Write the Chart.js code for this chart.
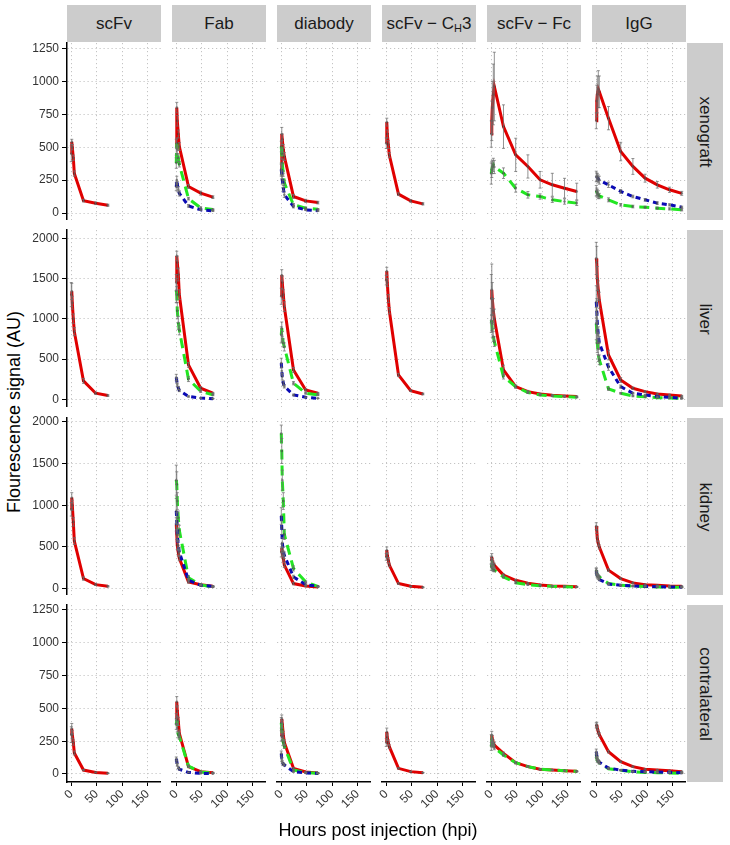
<!DOCTYPE html>
<html>
<head>
<meta charset="utf-8">
<script src="https://cdn.jsdelivr.net/npm/chart.js@4.4.0/dist/chart.umd.min.js"></script>
<style>
  body { margin: 0; background: #fff; font-family: "Liberation Sans", Arial, sans-serif; }
  #fig { position: relative; width: 730px; height: 845px; overflow: hidden; }
  canvas { position: absolute; }
  .strip { position: absolute; background: #cccccc; color: #1a1a1a; font-size: 17px;
           display: flex; align-items: center; justify-content: center; white-space: nowrap; }
  .strip sub { font-size: 11px; position: relative; top: 4px; vertical-align: baseline; }
  .rstrip span { transform: rotate(90deg); display: inline-block; }
  .title { position: absolute; font-size: 18px; color: #000; white-space: nowrap; }
</style>
</head>
<body>
<div id="fig"></div>
<script>
// facets
const formats = ['scFv', 'Fab', 'diabody', 'scFv − C<sub>H</sub>3', 'scFv − Fc', 'IgG'];
const tissues = ['xenograft', 'liver', 'kidney', 'contralateral'];

// sampling times (h)
const timesShort = [0, 1, 2, 4, 6, 24, 48, 72];
const timesLong = [0, 1, 2, 4, 6, 24, 48, 72, 96, 120, 144, 168];

// tick labels
const xTicks = [0, 50, 100, 150];
const yTicksSmall = [0, 250, 500, 750, 1000, 1250];
const yTicksLarge = [0, 500, 1000, 1500, 2000];

// order of each row's columns: scFv, Fab, diabody, scFv-CH3, scFv-Fc, IgG
const xenograftRed = [
  [450, 540, 500, 420, 300, 95, 75, 60],
  [500, 800, 700, 600, 505, 202, 152, 121],
  [330, 600, 560, 480, 430, 126, 93, 80],
  [530, 690, 600, 520, 440, 144, 93, 70],
  [600, 700, 800, 900, 960, 656, 442, 354, 253, 215, 189, 164],
  [700, 850, 900, 940, 920, 720, 467, 354, 265, 215, 177, 150]
];
const xenograftGreen = [
  null,
  [380, 530, 480, 420, 370, 110, 40, 28],
  [505, 450, 380, 300, 230, 63, 38, 30],
  null,
  [300, 330, 350, 366, 350, 303, 189, 139, 126, 101, 88, 76],
  [170, 160, 150, 140, 130, 101, 63, 50, 45, 38, 32, 25]
];
const xenograftBlue = [
  null,
  [200, 250, 220, 180, 150, 55, 25, 18],
  [330, 290, 250, 190, 140, 50, 25, 18],
  null,
  null,
  [278, 275, 270, 260, 250, 215, 164, 126, 101, 76, 63, 45]
];
const xenograftRedErr = [
  [60, 20, 20, 20, 20, 10, 10, 8],
  [60, 40, 40, 30, 30, 15, 15, 10],
  [50, 50, 40, 40, 30, 15, 12, 10],
  [40, 30, 30, 30, 20, 10, 10, 8],
  [100, 150, 200, 230, 260, 165, 126, 88, 63, 87, 75, 63],
  [60, 120, 140, 140, 120, 88, 70, 60, 30, 25, 20, 15]
];
const xenograftGreenErr = [
  null,
  [40, 40, 30, 30, 20, 10, 8, 5],
  [40, 40, 30, 20, 20, 10, 8, 5],
  null,
  [80, 60, 50, 50, 50, 40, 30, 25, 20, 20, 20, 18],
  [40, 30, 30, 30, 20, 15, 10, 10, 8, 8, 8, 8]
];
const xenograftBlueErr = [
  null,
  [30, 30, 20, 20, 20, 10, 5, 5],
  [40, 30, 30, 20, 20, 10, 5, 5],
  null,
  null,
  [40, 30, 30, 30, 30, 20, 15, 10, 10, 10, 8, 8]
];

const liverRed = [
  [1300, 1340, 1200, 1000, 840, 228, 75, 46],
  [1450, 1780, 1700, 1550, 1300, 427, 137, 75],
  [1280, 1540, 1450, 1300, 1150, 364, 116, 75],
  [1480, 1590, 1450, 1250, 1100, 302, 108, 66],
  [1250, 1360, 1250, 1100, 1000, 364, 157, 95, 66, 50, 41, 33],
  [1750, 1700, 1500, 1350, 1230, 550, 240, 137, 95, 66, 54, 41]
];
const liverGreen = [
  null,
  [1350, 1300, 1100, 950, 860, 250, 100, 55],
  [800, 880, 780, 700, 650, 200, 75, 54],
  null,
  [980, 950, 850, 780, 716, 282, 157, 83, 54, 41, 33, 25],
  [940, 850, 700, 550, 490, 130, 75, 40, 30, 20, 15, 12]
];
const liverBlue = [
  null,
  [270, 230, 180, 140, 110, 35, 15, 8],
  [450, 350, 280, 200, 160, 54, 25, 12],
  null,
  null,
  [1210, 1100, 950, 800, 700, 400, 157, 75, 54, 33, 25, 12]
];
const liverRedErr = [
  [150, 100, 80, 60, 50, 30, 15, 10],
  [100, 60, 80, 80, 60, 30, 20, 10],
  [100, 70, 80, 60, 60, 30, 15, 10],
  [60, 50, 50, 50, 40, 20, 10, 10],
  [300, 320, 200, 150, 120, 60, 20, 15, 10, 10, 8, 8],
  [200, 200, 150, 120, 100, 60, 30, 15, 10, 10, 8, 8]
];
const liverGreenErr = [
  null,
  [150, 100, 100, 80, 60, 30, 15, 10],
  [100, 80, 60, 50, 50, 20, 10, 8],
  null,
  [150, 100, 80, 60, 60, 30, 15, 10, 8, 8, 6, 6],
  [200, 150, 120, 80, 60, 20, 10, 8, 6, 6, 5, 5]
];
const liverBlueErr = [
  null,
  [40, 30, 20, 20, 15, 8, 5, 3],
  [60, 50, 40, 30, 20, 10, 5, 3],
  null,
  null,
  [200, 150, 120, 100, 80, 40, 20, 10, 8, 6, 5, 4]
];

const kidneyRed = [
  [950, 1090, 1000, 800, 570, 121, 48, 28],
  [770, 650, 520, 430, 364, 81, 48, 28],
  [440, 485, 420, 360, 283, 61, 32, 20],
  [380, 460, 400, 340, 283, 61, 28, 16],
  [340, 380, 330, 300, 280, 162, 100, 65, 45, 32, 28, 22],
  [750, 700, 600, 540, 500, 222, 121, 69, 48, 40, 32, 28]
];
const kidneyGreen = [
  null,
  [1300, 1250, 1050, 850, 700, 130, 45, 20],
  [1860, 1650, 1300, 1050, 650, 242, 81, 28],
  null,
  [260, 280, 250, 230, 222, 141, 70, 48, 36, 28, 24, 20],
  [220, 190, 160, 150, 140, 61, 40, 30, 25, 20, 18, 16]
];
const kidneyBlue = [
  null,
  [930, 810, 650, 520, 440, 101, 40, 28],
  [870, 730, 550, 450, 400, 141, 48, 28],
  null,
  null,
  [210, 180, 150, 130, 110, 55, 40, 32, 28, 24, 20, 18]
];
const kidneyRedErr = [
  [80, 60, 60, 50, 40, 20, 10, 8],
  [80, 60, 50, 40, 30, 15, 10, 8],
  [60, 50, 40, 30, 30, 15, 8, 5],
  [40, 40, 30, 30, 20, 10, 5, 5],
  [50, 40, 30, 30, 25, 15, 10, 8, 6, 5, 5, 5],
  [40, 40, 30, 30, 25, 15, 10, 8, 6, 5, 5, 5]
];
const kidneyGreenErr = [
  null,
  [180, 150, 100, 80, 60, 20, 10, 5],
  [100, 150, 120, 100, 60, 30, 10, 5],
  null,
  [40, 30, 30, 25, 20, 15, 10, 8, 6, 5, 5, 5],
  [30, 25, 20, 20, 15, 10, 8, 6, 5, 5, 5, 5]
];
const kidneyBlueErr = [
  null,
  [150, 100, 80, 60, 50, 20, 10, 5],
  [100, 80, 60, 50, 40, 20, 10, 5],
  null,
  null,
  [30, 25, 20, 20, 15, 10, 8, 6, 5, 5, 5, 5]
];

const contralateralRed = [
  [300, 345, 300, 240, 160, 30, 12, 6],
  [420, 550, 480, 400, 310, 56, 18, 10],
  [290, 420, 380, 300, 240, 43, 15, 8],
  [240, 320, 280, 240, 208, 43, 18, 10],
  [260, 295, 270, 240, 221, 157, 86, 56, 36, 30, 25, 20],
  [370, 375, 350, 320, 300, 170, 94, 56, 36, 30, 25, 18]
];
const contralateralGreen = [
  null,
  [380, 410, 350, 300, 285, 60, 15, 8],
  [390, 340, 280, 240, 210, 30, 10, 5],
  null,
  [210, 245, 230, 215, 200, 145, 86, 56, 36, 30, 25, 20],
  [145, 120, 105, 95, 85, 40, 28, 18, 12, 10, 8, 6]
];
const contralateralBlue = [
  null,
  [115, 95, 70, 50, 36, 12, 5, 3],
  [155, 110, 90, 75, 69, 18, 8, 5],
  null,
  null,
  [170, 140, 120, 100, 90, 45, 30, 20, 18, 15, 13, 10]
];
const contralateralRedErr = [
  [60, 40, 30, 20, 15, 5, 3, 2],
  [40, 40, 40, 30, 25, 8, 4, 3],
  [40, 30, 30, 25, 20, 6, 3, 2],
  [30, 30, 25, 20, 15, 5, 3, 2],
  [40, 30, 25, 20, 20, 10, 8, 5, 4, 3, 3, 3],
  [20, 20, 15, 15, 15, 10, 6, 5, 4, 3, 3, 3]
];
const contralateralGreenErr = [
  null,
  [40, 30, 30, 25, 20, 8, 4, 2],
  [40, 30, 25, 20, 15, 6, 3, 2],
  null,
  [30, 20, 20, 15, 15, 10, 8, 5, 4, 3, 3, 3],
  [20, 15, 15, 10, 10, 6, 4, 3, 3, 2, 2, 2]
];
const contralateralBlueErr = [
  null,
  [15, 12, 10, 8, 6, 3, 2, 1],
  [20, 15, 12, 10, 8, 4, 2, 1],
  null,
  null,
  [20, 15, 12, 10, 10, 6, 4, 3, 3, 2, 2, 2]
];

const rows = [
  { red: xenograftRed, green: xenograftGreen, blue: xenograftBlue,
    redErr: xenograftRedErr, greenErr: xenograftGreenErr, blueErr: xenograftBlueErr,
    ticks: yTicksSmall, range: [-52, 1290] },
  { red: liverRed, green: liverGreen, blue: liverBlue,
    redErr: liverRedErr, greenErr: liverGreenErr, blueErr: liverBlueErr,
    ticks: yTicksLarge, range: [-96, 2103] },
  { red: kidneyRed, green: kidneyGreen, blue: kidneyBlue,
    redErr: kidneyRedErr, greenErr: kidneyGreenErr, blueErr: kidneyBlueErr,
    ticks: yTicksLarge, range: [-76, 2045] },
  { red: contralateralRed, green: contralateralGreen, blue: contralateralBlue,
    redErr: contralateralRedErr, greenErr: contralateralGreenErr, blueErr: contralateralBlueErr,
    ticks: yTicksSmall, range: [-61, 1288] }
];

const lineStyles = {
  red: { color: '#e00000', dash: [], order: 3 },
  green: { color: '#22e622', dash: [10, 6], order: 2 },
  blue: { color: '#0a0ab4', dash: [5, 4], order: 1 }
};

// layout
const PANEL_W = 94, PANEL_H = 177;
const Y_AXIS_W = 42, X_AXIS_H = 40, PAD_TOP = 8, PAD_LEFT = 12;
const colLeft = [67, 172, 277, 382, 487, 592];
const rowTop = [43, 230, 418, 605];
const xRange = [-8.4, 176.4];

const fig = document.getElementById('fig');

// gray error bars on top of the lines
const errorBars = {
  id: 'errorBars',
  afterDatasetsDraw(chart) {
    const { ctx, chartArea, scales: { x, y } } = chart;
    ctx.save();
    ctx.beginPath();
    ctx.rect(chartArea.left, chartArea.top, chartArea.width, chartArea.height);
    ctx.clip();
    ctx.strokeStyle = 'rgba(110,110,110,0.75)';
    ctx.lineWidth = 1;
    chart.data.datasets.forEach(ds => {
      if (!ds.err) return;
      ds.data.forEach((p, i) => {
        const e = ds.err[i];
        if (!e) return;
        const px = x.getPixelForValue(p.x);
        const y1 = y.getPixelForValue(p.y - e);
        const y2 = y.getPixelForValue(p.y + e);
        ctx.beginPath();
        ctx.moveTo(px, y1); ctx.lineTo(px, y2);
        ctx.moveTo(px - 1.5, y1); ctx.lineTo(px + 1.5, y1);
        ctx.moveTo(px - 1.5, y2); ctx.lineTo(px + 1.5, y2);
        ctx.stroke();
      });
    });
    ctx.restore();
  }
};

function makePanel(r, c) {
  const row = rows[r];
  const first = c === 0, last = r === rows.length - 1;
  const times = c >= 4 ? timesLong : timesShort;
  const padLeft = !first && last ? PAD_LEFT : 0;

  const canvas = document.createElement('canvas');
  const w = PANEL_W + (first ? Y_AXIS_W : 0) + padLeft;
  const h = PANEL_H + (first ? PAD_TOP : 0) + (last ? X_AXIS_H : 0);
  canvas.width = w; canvas.height = h;
  canvas.style.width = w + 'px'; canvas.style.height = h + 'px';
  canvas.style.left = (colLeft[c] - (first ? Y_AXIS_W : 0) - padLeft) + 'px';
  canvas.style.top = (rowTop[r] - (first ? PAD_TOP : 0)) + 'px';
  fig.appendChild(canvas);

  const datasets = [];
  ['red', 'green', 'blue'].forEach(key => {
    const vals = row[key][c];
    if (!vals) return;
    const st = lineStyles[key];
    datasets.push({
      data: vals.map((v, i) => ({ x: times[i], y: v })),
      err: row[key + 'Err'][c],
      borderColor: st.color,
      borderWidth: 3,
      borderDash: st.dash,
      borderCapStyle: 'butt',
      pointRadius: 1.3,
      pointBackgroundColor: 'rgba(40,40,40,0.55)',
      pointBorderWidth: 0,
      tension: 0,
      order: st.order
    });
  });

  new Chart(canvas, {
    type: 'line',
    data: { datasets },
    options: {
      responsive: false,
      animation: false,
      devicePixelRatio: 1,
      layout: { padding: { top: first ? PAD_TOP : 0, left: padLeft, right: 0, bottom: 0 }, autoPadding: false },
      plugins: { legend: { display: false }, tooltip: { enabled: false } },
      scales: {
        x: {
          type: 'linear',
          min: xRange[0], max: xRange[1],
          afterBuildTicks: s => { s.ticks = xTicks.map(v => ({ value: v })); },
          afterFit: s => { s.height = last ? X_AXIS_H : 0; s.paddingLeft = 0; s.paddingRight = 0; },
          ticks: { display: last, minRotation: 45, maxRotation: 45, autoSkip: false,
                   color: '#333', font: { size: 12, family: 'Liberation Sans' }, padding: 1,
                   callback: v => String(v) },
          grid: { color: '#c4c4c4', lineWidth: 1, drawTicks: last, tickLength: 4,
                  tickColor: '#000', tickWidth: 1, tickBorderDash: [] },
          border: { display: last, color: '#000', width: 1.5, dash: [1.2, 2.8] }
        },
        y: {
          type: 'linear',
          min: row.range[0], max: row.range[1],
          afterBuildTicks: s => { s.ticks = row.ticks.map(v => ({ value: v })); },
          afterFit: s => { s.width = first ? Y_AXIS_W : 0; s.paddingTop = 0; s.paddingBottom = 0; },
          ticks: { display: first, color: '#333', font: { size: 12, family: 'Liberation Sans' }, padding: 3,
                   callback: v => String(v) },
          grid: { color: '#c4c4c4', lineWidth: 1, drawTicks: first, tickLength: 5,
                  tickColor: '#000', tickWidth: 1, tickBorderDash: [] },
          border: { display: first, color: '#000', width: 1.5, dash: [1.2, 2.8] }
        }
      }
    },
    plugins: [errorBars]
  });
}

// strips
formats.forEach((name, c) => {
  const d = document.createElement('div');
  d.className = 'strip';
  d.style.left = colLeft[c] + 'px'; d.style.top = '5px';
  d.style.width = PANEL_W + 'px'; d.style.height = '37px';
  d.innerHTML = name;
  fig.appendChild(d);
});
tissues.forEach((name, r) => {
  const d = document.createElement('div');
  d.className = 'strip rstrip';
  d.style.left = '687px'; d.style.top = rowTop[r] + 'px';
  d.style.width = '36px'; d.style.height = PANEL_H + 'px';
  d.innerHTML = '<span>' + name + '</span>';
  fig.appendChild(d);
});

for (let r = 0; r < rows.length; r++) {
  for (let c = 0; c < formats.length; c++) makePanel(r, c);
}

// axis titles
const xt = document.createElement('div');
xt.className = 'title';
xt.textContent = 'Hours post injection (hpi)';
xt.style.left = '378px'; xt.style.top = '830px';
xt.style.transform = 'translate(-50%, -50%)';
fig.appendChild(xt);

const yt = document.createElement('div');
yt.className = 'title';
yt.textContent = 'Flourescence signal (AU)';
yt.style.left = '14px'; yt.style.top = '412px';
yt.style.transform = 'translate(-50%, -50%) rotate(-90deg)';
fig.appendChild(yt);
</script>
</body>
</html>
